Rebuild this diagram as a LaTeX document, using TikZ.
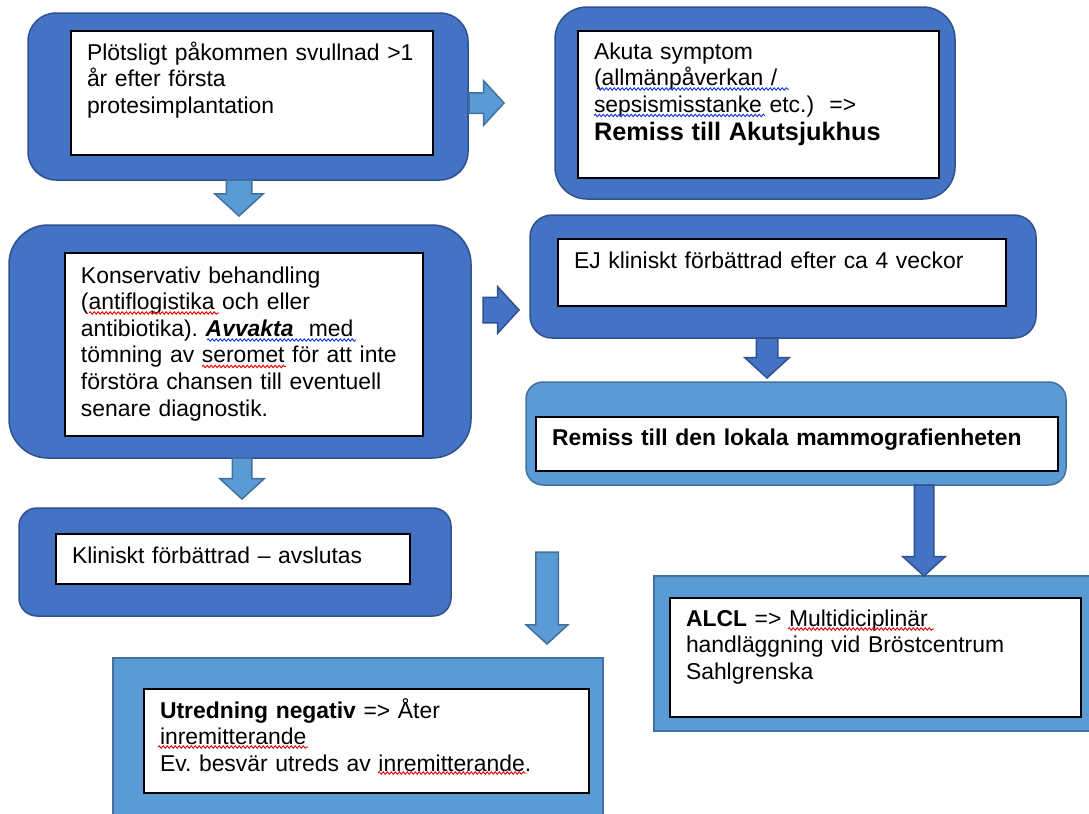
\documentclass[tikz,border=0pt]{standalone}
\usepackage{fontspec}
\setmainfont{Liberation Sans}
\usetikzlibrary{shapes.arrows,decorations.pathmorphing}
\definecolor{darkbox}{HTML}{4472C4}
\definecolor{darkedge}{HTML}{2F528F}
\definecolor{lightbox}{HTML}{5B9BD5}
\definecolor{lightedge}{HTML}{41719C}
\definecolor{wavered}{HTML}{E81010}
\definecolor{waveblue}{HTML}{2040E8}
\newlength{\px}
\setlength{\px}{0.5pt}
\frenchspacing

\begin{document}
\begin{tikzpicture}[x=1\px,y=-1\px,
    darkstage/.style={draw=darkedge,fill=darkbox,line width=1.5\px,anchor=north west,
      inner sep=0pt,outer sep=0pt,rounded corners=#1},
    lightstage/.style={draw=lightedge,fill=lightbox,line width=1.5\px,anchor=north west,
      inner sep=0pt,outer sep=0pt,rounded corners=#1},
    note/.style={draw=black,fill=white,line width=1.8\px,anchor=north west,outer sep=0pt,
      inner xsep=16\px,inner ysep=0pt,align=left,text height=29\px,
      font=\fontsize{11.45}{13.3}\selectfont},
    flow/.style={single arrow,anchor=tail,inner xsep=0pt,outer sep=0pt,line width=1.5\px,
      text height=0pt,text depth=0pt,single arrow tip angle=95},
    lightflow/.style={flow,fill=lightbox,draw=lightedge},
    darkflow/.style={flow,fill=darkbox,draw=darkedge},
    spell/.style={draw=#1,line width=1\px,decorate,
      decoration={snake,amplitude=1.2\px,segment length=4\px}}]
  \clip (0,0) rectangle (1089,814);
  \fill[white] (0,0) rectangle (1089,814);

  \node[darkstage=28\px,minimum width=440\px,minimum height=167\px] (start) at (28,13) {};
  \node[darkstage=32\px,minimum width=400\px,minimum height=192\px] (acute) at (555,7) {};
  \node[darkstage=39\px,minimum width=462\px,minimum height=233\px] (conserv) at (9,225) {};
  \node[darkstage=22\px,minimum width=506\px,minimum height=123\px] (noimprov) at (530,215) {};
  \node[lightstage=17\px,minimum width=540\px,minimum height=103\px] (mammo) at (526,382) {};
  \node[darkstage=18\px,minimum width=432\px,minimum height=108\px] (improv) at (19,508) {};
  \node[lightstage=0pt,minimum width=445\px,minimum height=155\px] (alcl) at (654,576) {};
  \node[lightstage=0pt,minimum width=490\px,minimum height=170\px] (negative) at (113,658) {};

  \node[note,text width=330\px,text depth=95\px] (startText) at (71,31)
    {Plötsligt påkommen svullnad >1\\år efter första\\protesimplantation};
  \node[note,text width=329\px,text depth=119\px,text height=28\px] (acuteText) at (578,31)
    {Akuta symptom\\(allmänpåverkan /\\sepsismisstanke etc.)\ \ =>\\[1.4\px]
     {\fontsize{12.65}{14}\selectfont\bfseries Remiss till Akutsjukhus}};
  \node[note,text width=326\px,text depth=153\px,text height=30\px] (conservText) at (65,253)
    {Konservativ behandling\\(antiflogistika och eller\\antibiotika).
     {\bfseries\itshape Avvakta}\ \ med\\tömning av seromet för att inte\\
     förstöra chansen till eventuell\\senare diagnostik.};
  \node[note,text width=416\px,text depth=38\px] (noimprovText) at (558,239)
    {EJ kliniskt förbättrad efter ca 4 veckor};
  \node[note,text width=490\px,text depth=26\px,text height=28\px] (mammoText) at (536,417)
    {\bfseries Remiss till den lokala mammografienheten};
  \node[note,text width=322\px,text depth=21\px] (improvText) at (56,534)
    {Kliniskt förbättrad – avslutas};
  \node[note,text width=379\px,text depth=91\px,text height=28\px] (alclText) at (670,598)
    {\textbf{ALCL} => Multidiciplinär\\handläggning vid Bröstcentrum\\Sahlgrenska};
  \node[note,text width=413\px,text depth=75\px] (negativeText) at (144,689)
    {\textbf{Utredning negativ} => Åter\\inremitterande\\Ev. besvär utreds av inremitterande.};

  \draw[spell=waveblue] (597,89) -- (789,89);
  \draw[spell=waveblue] (594,115.5) -- (765,115.5);
  \draw[spell=wavered] (89,313) -- (219,313);
  \draw[spell=waveblue] (207,340) -- (356,340);
  \draw[spell=wavered] (202,366.5) -- (286,366.5);
  \draw[spell=wavered] (788,629) -- (934,629);
  \draw[spell=wavered] (158,747) -- (308,747);
  \draw[spell=wavered] (378,773) -- (526,773);

  \node[lightflow,minimum height=35\px,inner ysep=9.5\px,single arrow head extend=12\px] (toAcute) at (469,103) {};
  \node[lightflow,minimum height=36\px,inner ysep=12\px,single arrow head extend=11.5\px,rotate=-90] (toConserv) at (239,180) {};
  \node[darkflow,minimum height=36\px,inner ysep=12\px,single arrow head extend=10.5\px] (toNoimprov) at (483,310) {};
  \node[darkflow,minimum height=40\px,inner ysep=10\px,single arrow head extend=11.5\px,rotate=-90] (toMammo) at (767,338) {};
  \node[lightflow,minimum height=41\px,inner ysep=9\px,single arrow head extend=12.5\px,rotate=-90] (toImprov) at (242,458) {};
  \node[lightflow,minimum height=92\px,inner ysep=10.5\px,single arrow head extend=9.5\px,rotate=-90] (toNegative) at (547,552) {};
  \node[darkflow,minimum height=91\px,inner ysep=9\px,single arrow head extend=11.5\px,rotate=-90] (toAlcl) at (924,485) {};
\end{tikzpicture}
\end{document}
